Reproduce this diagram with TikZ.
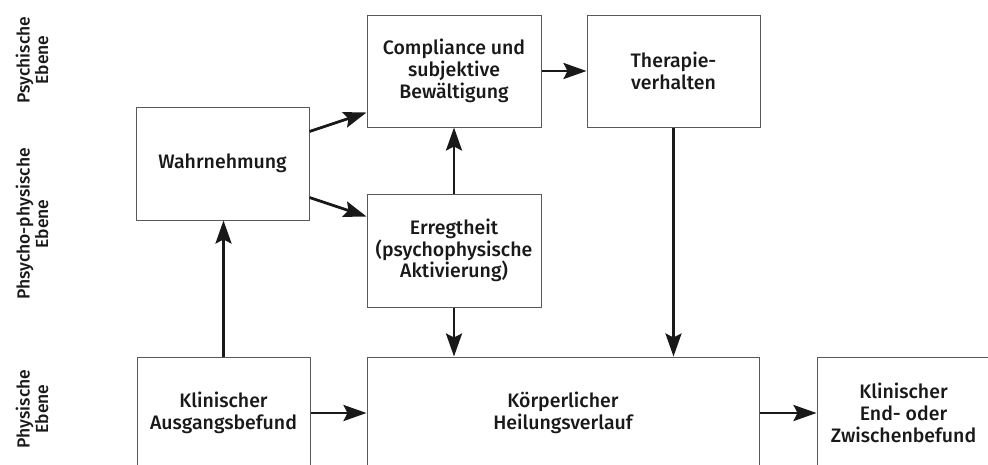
\documentclass[tikz,border=0pt]{standalone}
\usepackage{fontspec}
\setmainfont{Fira Sans}
\newfontfamily\boxfont{Fira Sans Medium}
\usetikzlibrary{arrows.meta}
\definecolor{boxline}{gray}{0.35}
\definecolor{ink}{gray}{0.1}
\tikzset{
  flowbox/.style={draw=boxline, line width=1pt, rectangle, align=center,
    text=ink, font=\boxfont\fontsize{19.5}{21.7}\selectfont, inner sep=0pt},
  flowarrow/.style={draw=ink, line width=2.8pt,
    -{Stealth[length=23pt,width=16pt,inset=4pt]}},
  sidelabel/.style={rotate=90, align=center, text=ink,
    font=\boxfont\fontsize{17.5}{18.5}\selectfont, inner sep=0pt}
}
\begin{document}
\begin{tikzpicture}[x=1pt,y=-1pt]
\path[use as bounding box, clip] (0,0) rectangle (988,464);
\node[sidelabel] (lpsy) at (32,60) {Psychische\\Ebene};
\node[sidelabel] (lpp) at (32,224) {Phsycho-physische\\Ebene};
\node[sidelabel] (lphy) at (32,409) {Physische\\Ebene};

\node[flowbox, minimum width=174pt, minimum height=112pt] (comp) at (454,71) {Compliance und\\subjektive\\Bewältigung};
\node[flowbox, minimum width=173pt, minimum height=112pt] (ther) at (673.5,71) {Therapie-\\verhalten};
\node[flowbox, minimum width=173pt, minimum height=113pt] (wahr) at (222.5,163.5) {Wahrnehmung};
\node[flowbox, minimum width=174pt, minimum height=113pt] (erreg) at (454,250.5) {Erregtheit\\(psychophysische\\Aktivierung)};
\node[flowbox, minimum width=173pt, minimum height=112pt] (ausg) at (223.5,413) {Klinischer\\Ausgangsbefund};
\node[flowbox, minimum width=392pt, minimum height=112pt] (koerp) at (563,413) {Körperlicher\\Heilungsverlauf};
\node[flowbox, minimum width=173pt, minimum height=112pt] (endb) at (903.5,413) {Klinischer\\End- oder\\Zwischenbefund};

\draw[flowarrow] (ausg.north) -- (ausg.north |- wahr.south);
\draw[flowarrow] ([yshift=-25pt]wahr.north east) -- ([yshift=15pt]comp.south west);
\draw[flowarrow] ([yshift=23pt]wahr.south east) -- ([yshift=-23pt]erreg.north west);
\draw[flowarrow] (erreg.north) -- (comp.south);
\draw[flowarrow] (comp.east) -- (ther.west);
\draw[flowarrow] (erreg.south) -- (erreg.south |- koerp.north);
\draw[flowarrow] (ther.south) -- (ther.south |- koerp.north);
\draw[flowarrow] (ausg.east) -- (koerp.west);
\draw[flowarrow] (koerp.east) -- (endb.west);
\end{tikzpicture}
\end{document}
